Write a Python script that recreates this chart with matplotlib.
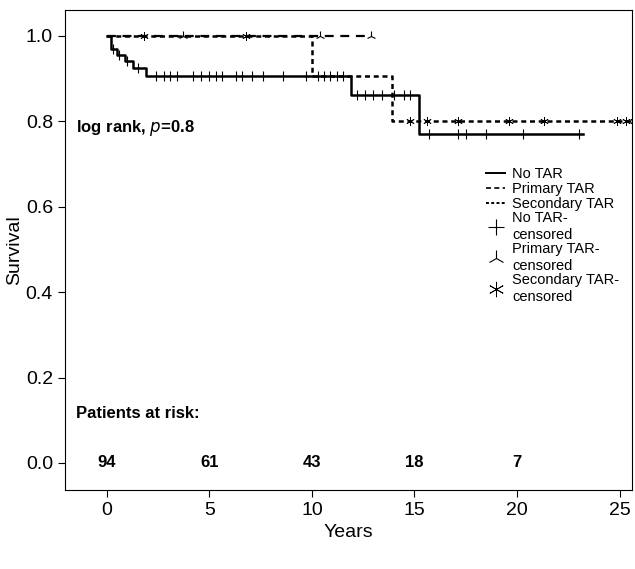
import numpy as np
import matplotlib.pyplot as plt
from matplotlib.lines import Line2D

plt.rcParams["font.family"] = ["Liberation Sans", "DejaVu Sans"]

# step curves (time, survival)
no_tar_t = [0, 0.2, 0.5, 0.9, 1.3, 1.9, 11.9, 15.2, 23.2]
no_tar_s = [1.0, 0.97, 0.955, 0.94, 0.925, 0.906, 0.862, 0.77, 0.77]
no_tar_cens_t = [0.3, 0.6, 1.0, 1.5, 2.4, 2.8, 3.1, 3.4, 4.2, 4.6, 5.0, 5.3, 5.6, 6.3, 6.6, 7.1, 7.6,
                 8.6, 9.7, 10.3, 10.6, 10.9, 11.2, 11.5, 12.2, 12.6, 13.0, 13.4, 14.0, 14.5, 14.8,
                 15.7, 17.1, 17.5, 18.5, 20.3, 23.0]

prim_t = [0, 12.9]
prim_s = [1.0, 1.0]
prim_cens_t = [3.7, 10.4, 12.9]

sec_t = [0, 10.0, 13.9, 26]
sec_s = [1.0, 0.906, 0.80, 0.80]
sec_cens_t = [1.8, 6.8, 14.8, 15.6, 17.1, 19.6, 21.3, 24.9, 25.3, 25.7]

risk_years = [0, 5, 10, 15, 20]
risk_counts = [94, 61, 43, 18, 7]


def surv_at(ts, ss, t):
    idx = np.searchsorted(ts, t, side="right") - 1
    return np.array(ss)[idx]


fig = plt.figure(figsize=(6.35, 5.69), dpi=100)
ax = fig.add_axes([0.102, 0.139, 0.893, 0.843])

ax.step(no_tar_t, no_tar_s, where="post", color="black", lw=1.8)
ax.step(prim_t, prim_s, where="post", color="black", lw=1.6, ls=(0, (4, 3)))
ax.step(sec_t, sec_s, where="post", color="black", lw=1.8, ls=(0, (2, 1.5)))

ax.plot(no_tar_cens_t, surv_at(no_tar_t, no_tar_s, no_tar_cens_t), ls="none",
        marker="|", ms=7, color="black", mew=0.8)
ax.plot(prim_cens_t, surv_at(prim_t, prim_s, prim_cens_t), ls="none",
        marker="2", ms=7, color="black", mew=0.8)
ax.plot(sec_cens_t, surv_at(sec_t, sec_s, sec_cens_t), ls="none",
        marker=(6, 2, 0), ms=6, color="black", mew=0.6)

ax.set_xlim(-2.05, 25.6)
ax.set_ylim(-0.063, 1.06)
ax.set_xticks([0, 5, 10, 15, 20, 25])
ax.set_yticks([0.0, 0.2, 0.4, 0.6, 0.8, 1.0])
ax.set_yticklabels(["0.0", "0.2", "0.4", "0.6", "0.8", "1.0"])
ax.tick_params(labelsize=14, length=5)
ax.set_xlabel("Years", fontsize=14)
ax.set_ylabel("Survival", fontsize=14, labelpad=2)

ax.text(-1.5, 0.775, "log rank, $\\mathbf{\\mathit{p}}$=0.8", fontsize=12, fontweight="bold")
ax.text(-1.5, 0.117, "Patients at risk:", fontsize=12, fontweight="bold", va="center")
for x, n in zip(risk_years, risk_counts):
    ax.text(x, 0.0, str(n), fontsize=12, fontweight="bold", ha="center", va="center")

handles = [
    Line2D([], [], color="black", lw=1.4, drawstyle="steps-post"),
    Line2D([], [], color="black", lw=1.2, ls=(0, (3, 2))),
    Line2D([], [], color="black", lw=1.4, ls=(0, (1.5, 1.2))),
    Line2D([], [], color="black", ls="none", marker="+", ms=12, mew=0.8),
    Line2D([], [], color="black", ls="none", marker="2", ms=12, mew=0.8),
    Line2D([], [], color="black", ls="none", marker=(6, 2, 0), ms=11, mew=0.6),
]
labels = ["No TAR", "Primary TAR", "Secondary TAR", "No TAR-\ncensored",
          "Primary TAR-\ncensored", "Secondary TAR-\ncensored"]
ax.legend(handles, labels, loc="upper left", bbox_to_anchor=(0.72, 0.7), frameon=False,
          fontsize=10.5, handlelength=1.3, handletextpad=0.5, labelspacing=0.05)

fig.savefig("out.png", dpi=100)
